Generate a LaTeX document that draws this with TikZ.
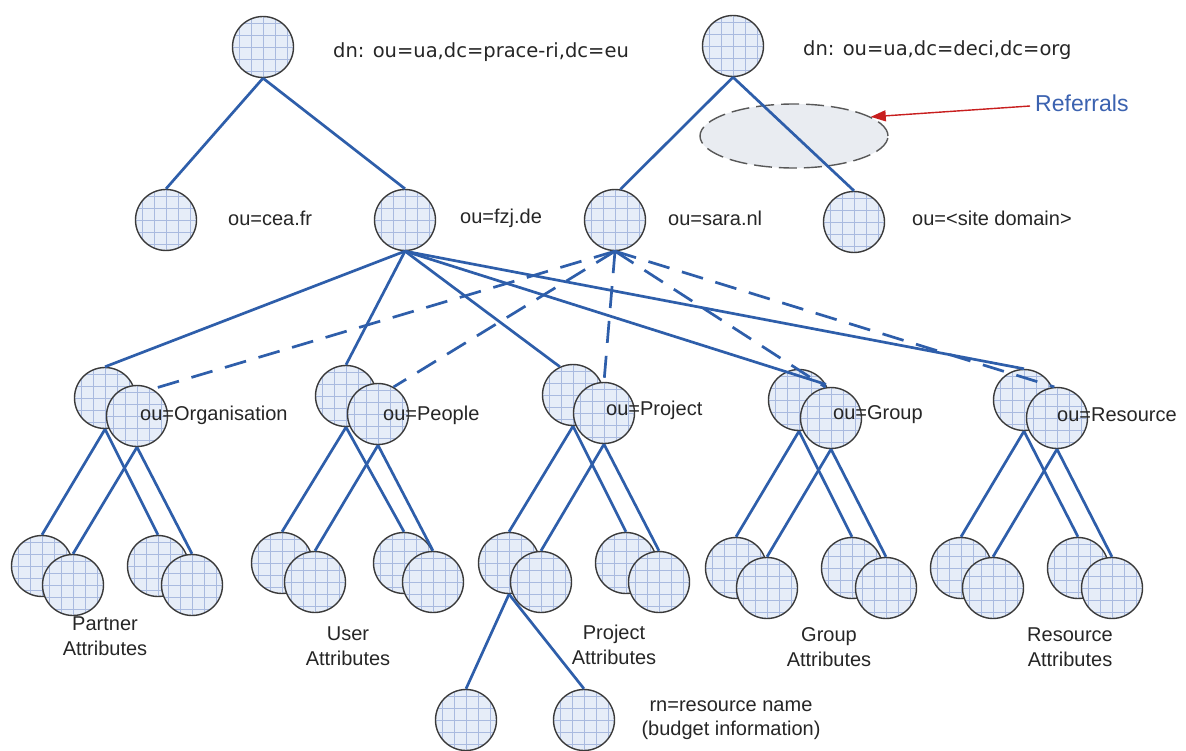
\documentclass[tikz,border=0pt]{standalone}
\usepackage{fontspec}
\setmainfont{Liberation Sans}
\newfontfamily\dvs{DejaVu Sans}
\usetikzlibrary{arrows.meta,shapes.geometric}
\definecolor{lnblue}{HTML}{2E5EAA}
\definecolor{cfill}{HTML}{E6EDF8}
\definecolor{cgrid}{HTML}{A9BADF}
\definecolor{ringc}{HTML}{3A3A3A}
\definecolor{ellfill}{HTML}{E9ECF1}
\definecolor{refred}{HTML}{C81E1E}
\definecolor{refblue}{HTML}{3B62B0}
\definecolor{txt}{HTML}{262626}
\tikzset{
  ldap/.style={circle, draw=ringc, line width=1.4pt, fill=cfill, minimum size=61pt, inner sep=0pt,
    path picture={\draw[cgrid, line width=0.9pt, shift={(path picture bounding box.center)}] (-42pt,-42pt) grid[step=12pt] (42pt,42pt);}},
  tree/.style={draw=lnblue, line width=2.7pt},
  refl/.style={draw=lnblue, line width=2.7pt, dash pattern=on 22pt off 13pt},
  lbl/.style={font=\fontsize{20}{22}\selectfont, text=txt, inner sep=0pt, anchor=west},
  dnl/.style={font=\dvs\fontsize{19.5}{22}\selectfont, text=txt, inner sep=0pt, anchor=west},
  att/.style={font=\fontsize{20}{24.5}\selectfont, text=txt, inner sep=0pt, align=center},
}
\begin{document}
\begin{tikzpicture}[x=1pt,y=-1pt]
\useasboundingbox (0,0) rectangle (1186,751);
\fill[white] (0,0) rectangle (1186,751);

% referral ellipse
\node[ellipse, draw=ringc!85, fill=ellfill, line width=1.4pt, dash pattern=on 18pt off 7pt,
      minimum width=188pt, minimum height=64pt, inner sep=0pt] (ref) at (794,136) {};

% roots and second row
\node[ldap] (A) at (263,47) {};
\node[ldap] (B) at (733,46) {};
\node[dnl] (dnA) at (333,52) {dn: ou=ua,dc=prace-ri,dc=eu};
\node[dnl] (dnB) at (803,50) {dn: ou=ua,dc=deci,dc=org};

\node[ldap] (cea) at (166,220) {};
\node[ldap] (fzj) at (405,220) {};
\node[ldap] (sara) at (615,220) {};
\node[ldap] (site) at (854,222) {};
\node[lbl] (lcea) at (228,218) {ou=cea.fr};
\node[lbl] (lfzj) at (460,218) {ou=fzj.de};
\node[lbl] (lsara) at (668,218) {ou=sara.nl};
\node[lbl] (lsite) at (912,218) {ou=<site domain>};

% Referrals label and arrow
\node[font=\fontsize{23}{26}\selectfont, text=refblue, inner sep=0pt, anchor=west] (reftxt) at (1035,103) {Referrals};
\coordinate (refstart) at (1030,106);
\draw[refred, line width=1.4pt, -{Triangle[length=15pt,width=11pt]}] (refstart) -- (ref.14);

% third row (back circles then front circles)
\foreach \n/\x/\y in {ob/105/398, eb/346/396, pb/573/395, gb/799/400, rb/1024/400}
  \node[ldap] (\n) at (\x,\y) {};
\foreach \n/\x/\y in {of/137/416, ef/378/414, pf/604/413, gf/831/418, rf/1057/418}
  \node[ldap] (\n) at (\x,\y) {};

% children
\foreach \n/\x/\y in {obl/42/566, obr/158/566, ebl/282/563, ebr/404/563, pbl/509/563, pbr/626/563,
                      gbl/736/568, gbr/852/568, rbl/961/568, rbr/1078/568}
  \node[ldap] (\n) at (\x,\y) {};
\foreach \n/\x/\y in {ofl/73/585, ofr/192/585, efl/315/582, efr/433/582, pfl/541/582, pfr/659/582,
                      gfl/767/588, gfr/886/588, rfl/993/588, rfr/1112/588}
  \node[ldap] (\n) at (\x,\y) {};

% bottom
\node[ldap] (x1) at (466,720) {};
\node[ldap] (x2) at (584,720) {};

% connectors
\draw[tree] (A.south) -- (cea.north);
\draw[tree] (A.south) -- (fzj.north);
\draw[tree] (B.south) -- (sara.80);
\draw[tree] (B.south) -- (site.north);

\draw[tree] (fzj.south) -- (ob.north);
\draw[tree] (fzj.south) -- (eb.north);
\draw[tree] (fzj.south) -- (pb.115);
\draw[tree] (fzj.south) -- (gb.30);
\draw[tree] (fzj.south) -- (rb.north);

\draw[refl] (sara.south) -- (of.60);
\draw[refl] (sara.south) -- (ef.60);
\draw[refl] (sara.south) -- (pf.north);
\draw[refl] (sara.south) -- (gf.100);
\draw[refl] (sara.south) -- (rf.95);

\foreach \g in {o,e,p,g,r} {
  \draw[tree] (\g b.south) -- (\g bl.north);
  \draw[tree] (\g b.south) -- (\g br.north);
  \draw[tree] (\g f.south) -- (\g fl.north);
  \draw[tree] (\g f.south) -- (\g fr.north);
}
\draw[tree] (pbl.south) -- (x1.north);
\draw[tree] (pbl.south) -- (x2.north);

% labels of third row
\node[lbl] (lorg) at (140,415) {ou=Organisation};
\node[lbl] (lpeo) at (383,415) {ou=People};
\node[lbl] (lpro) at (606,410) {ou=Project};
\node[lbl] (lgrp) at (833,415) {ou=Group};
\node[lbl] (lres) at (1057,415) {ou=Resource};

% attribute labels
\node[att] (apar) at (105,636) {Partner\\Attributes};
\node[att] (ausr) at (348,646) {User\\Attributes};
\node[att] (apro) at (614,645) {Project\\Attributes};
\node[att] (agrp) at (829,647) {Group\\Attributes};
\node[att] (ares) at (1070,647) {Resource\\Attributes};
\node[att] (arn) at (731,720) {rn=resource name\\(budget information)};
\end{tikzpicture}
\end{document}
